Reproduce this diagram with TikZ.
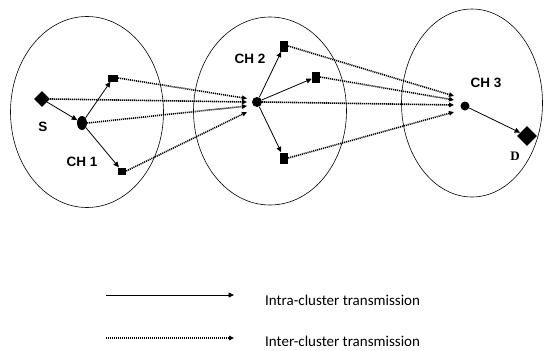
\documentclass[tikz,border=0pt]{standalone}
\usepackage{fontspec}
\newfontfamily\labfont{Liberation Sans}
\newfontfamily\dfont{Liberation Serif}
\newfontfamily\legfont{Carlito}
\usetikzlibrary{shapes.geometric,arrows.meta}
\begin{document}
\begin{tikzpicture}[x=1pt,y=-1pt,
  cluster/.style={draw, ellipse, line width=0.6pt, inner sep=0pt},
  hub/.style={fill=black, ellipse, inner sep=0pt},
  member/.style={fill=black, rectangle, inner sep=0pt},
  endpt/.style={fill=black, diamond, inner sep=0pt, minimum size=16pt},
  lbl/.style={font=\labfont\bfseries\fontsize{13.5}{15}\selectfont},
  intra/.style={-{Triangle[length=5.5pt,width=5pt]}, line width=0.8pt},
  inter/.style={-{Triangle[length=5pt,width=4.5pt]}, line width=1.6pt, dash pattern=on 1.1pt off 0.9pt},
  legtext/.style={font=\legfont\fontsize{15}{17}\selectfont, anchor=west, inner sep=1pt}
]
\useasboundingbox (0,0) rectangle (544,351);
% clusters
\node[cluster, minimum width=153pt, minimum height=191pt] (c1) at (87,112) {};
\node[cluster, minimum width=153pt, minimum height=188pt] (c2) at (270,111) {};
\node[cluster, minimum width=141pt, minimum height=188pt] (c3) at (472,103) {};
% cluster 1
\node[endpt] (s) at (42,99) {};
\node[lbl] (slab) at (43,127) {S};
\node[hub, minimum width=10pt, minimum height=14pt] (ch1) at (82,123) {};
\node[lbl] (ch1lab) at (82,162) {CH 1};
\node[member, minimum width=10pt, minimum height=7pt] (m1a) at (113,78) {};
\node[member, minimum width=8pt, minimum height=7pt] (m1b) at (122,171) {};
% cluster 2
\node[hub, minimum size=10pt] (ch2) at (257,102) {};
\node[lbl] (ch2lab) at (250,59) {CH 2};
\node[member, minimum width=8pt, minimum height=11pt] (m2a) at (284,46) {};
\node[member, minimum width=8pt, minimum height=11pt] (m2b) at (316,77) {};
\node[member, minimum width=8pt, minimum height=11pt] (m2c) at (284,158) {};
% cluster 3
\node[hub, minimum size=9pt] (ch3) at (465,106) {};
\node[lbl] (ch3lab) at (486,83) {CH 3};
\node[endpt, minimum size=20pt] (d) at (527,136) {};
\node[font=\dfont\bfseries\fontsize{13}{15}\selectfont] (dlab) at (515,156) {D};
% hub entry points
\coordinate (e2a) at (247,98.5);
\coordinate (e2b) at (247,102);
\coordinate (e2c) at (247,106);
\coordinate (e2d) at (247,112);
\coordinate (e3a) at (454,96);
\coordinate (e3b) at (454,100);
\coordinate (e3c) at (454,105);
\coordinate (e3d) at (454,112);
% intra-cluster
\draw[intra] (s) -- (ch1);
\draw[intra] (ch1) -- (m1a);
\draw[intra] (ch1) -- (m1b);
\draw[intra] (ch2) -- (m2a);
\draw[intra] (ch2) -- (m2b);
\draw[intra] (ch2) -- (m2c);
\draw[intra] (ch3) -- (d);
% inter-cluster
\draw[inter] (m1a.east) -- (e2a);
\draw[inter] (s.east) -- (e2b);
\draw[inter] (ch1.east) -- (e2c);
\draw[inter] (m1b.east) -- (e2d);
\draw[inter] (m2a.east) -- (e3a);
\draw[inter] (m2b.east) -- (e3b);
\draw[inter] (ch2.east) -- (e3c);
\draw[inter] (m2c.east) -- (e3d);
% legend
\coordinate (l1a) at (106,295);
\coordinate (l1b) at (234,295);
\coordinate (l2a) at (106,338);
\coordinate (l2b) at (234,338);
\draw[intra] (l1a) -- (l1b);
\draw[inter, line width=1.3pt] (l2a) -- (l2b);
\node[legtext] (t1) at (264,300) {Intra-cluster transmission};
\node[legtext] (t2) at (264,341) {Inter-cluster transmission};
\end{tikzpicture}
\end{document}
